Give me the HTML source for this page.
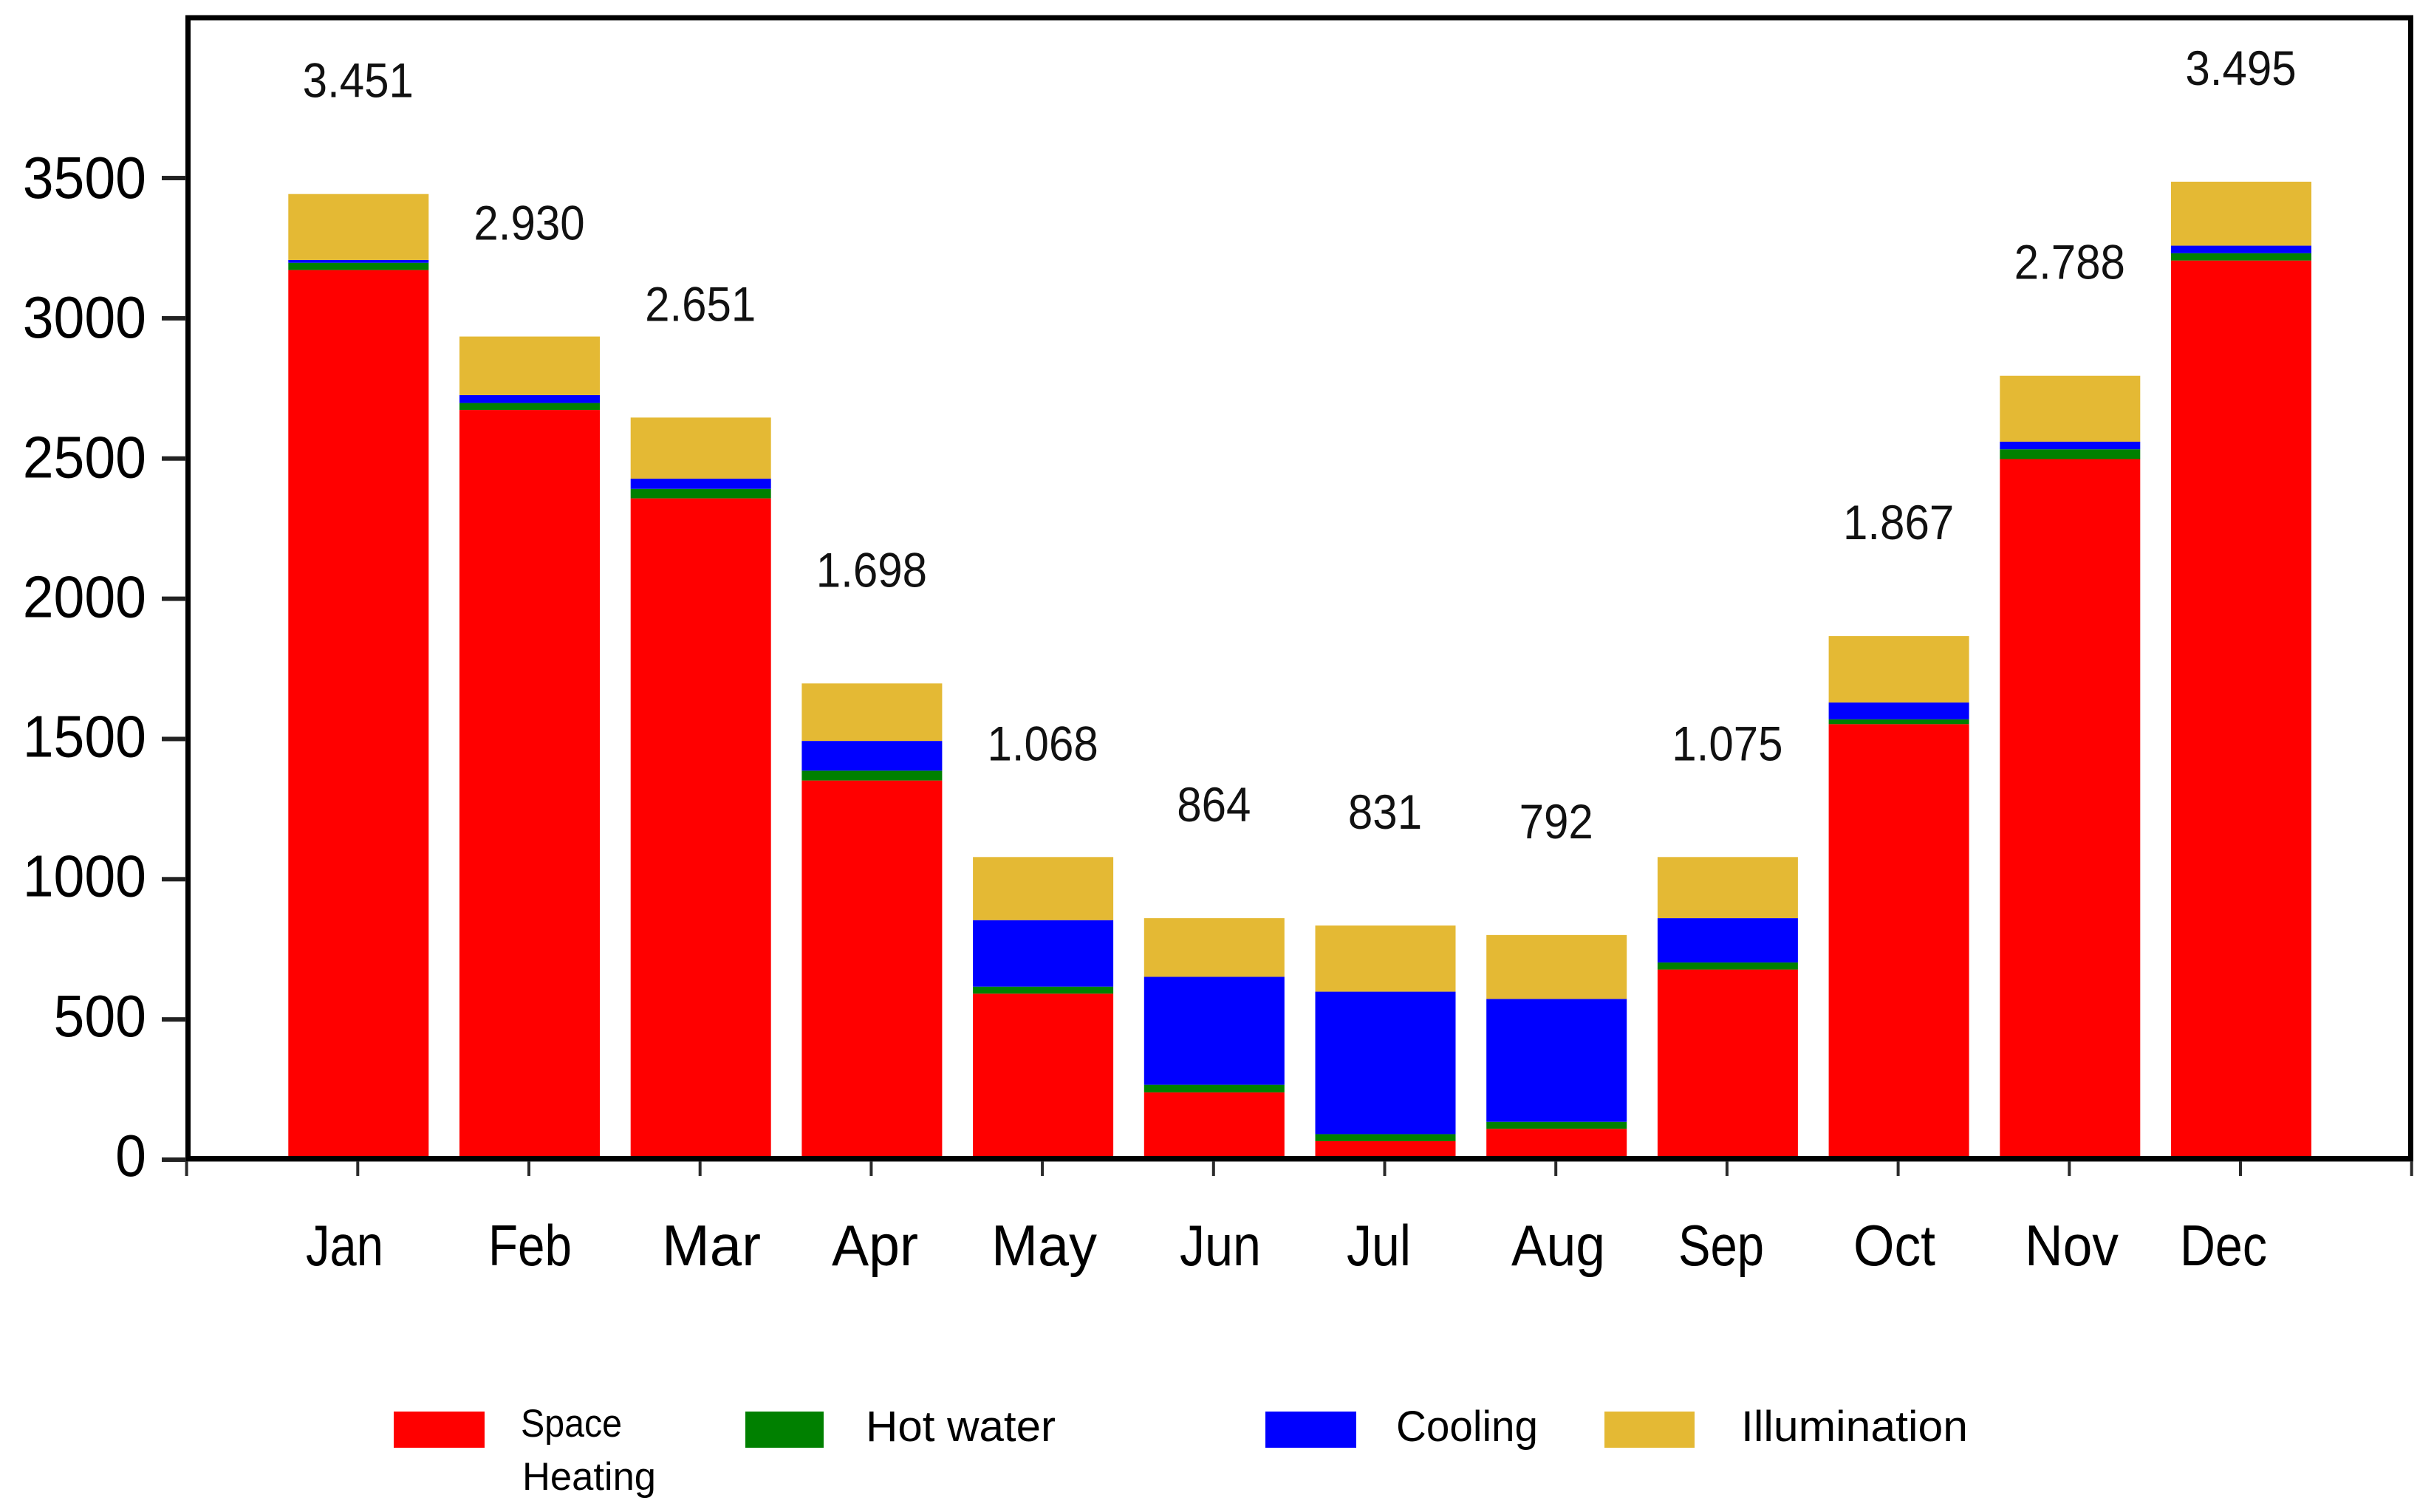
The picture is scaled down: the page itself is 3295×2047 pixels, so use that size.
<!DOCTYPE html>
<html lang="en">
<head>
<meta charset="utf-8">
<title>Monthly energy demand stacked bar chart</title>
<style>
html,body{margin:0;padding:0;background:#fff;}
svg{display:block;}
text{font-family:"Liberation Sans",sans-serif;fill:#000;}
</style>
</head>
<body>
<svg id="chart" xmlns="http://www.w3.org/2000/svg" width="3295" height="2047" viewBox="0 0 3295 2047">
  <rect x="0" y="0" width="3295" height="2047" fill="#ffffff"/>
  <g id="bars"></g>
  <g id="value-labels"></g>
  <rect x="254.5" y="24" width="3009" height="1545" fill="none" stroke="#000" stroke-width="7"/>
  <rect x="251" y="1565" width="3016" height="7.5" fill="#000"/>
  <g id="y-axis"></g>
  <g id="x-ticks"></g>

  <g font-size="78">
    <text x="414" y="1713" textLength="105" lengthAdjust="spacingAndGlyphs">Jan</text>
    <text x="661" y="1713" textLength="113" lengthAdjust="spacingAndGlyphs">Feb</text>
    <text x="896" y="1713" textLength="134" lengthAdjust="spacingAndGlyphs">Mar</text>
    <text x="1126" y="1713" textLength="117" lengthAdjust="spacingAndGlyphs">Apr</text>
    <text x="1342" y="1713" textLength="143" lengthAdjust="spacingAndGlyphs">May</text>
    <text x="1597" y="1713" textLength="110" lengthAdjust="spacingAndGlyphs">Jun</text>
    <text x="1823" y="1713" textLength="87" lengthAdjust="spacingAndGlyphs">Jul</text>
    <text x="2046" y="1713" textLength="127" lengthAdjust="spacingAndGlyphs">Aug</text>
    <text x="2272" y="1713" textLength="116" lengthAdjust="spacingAndGlyphs">Sep</text>
    <text x="2509" y="1713" textLength="111" lengthAdjust="spacingAndGlyphs">Oct</text>
    <text x="2741" y="1713" textLength="127" lengthAdjust="spacingAndGlyphs">Nov</text>
    <text x="2951" y="1713" textLength="118" lengthAdjust="spacingAndGlyphs">Dec</text>
  </g>

  <g>
    <g>
      <rect x="533" y="1911" width="123" height="49" fill="#ff0000"/>
      <text x="705" y="1945" font-size="53" textLength="137" lengthAdjust="spacingAndGlyphs">Space</text>
      <text x="707" y="2017" font-size="53" textLength="181" lengthAdjust="spacingAndGlyphs">Heating</text>
    </g>
    <g>
      <rect x="1009" y="1911" width="106" height="49" fill="#008000"/>
      <text x="1172" y="1951" font-size="58" textLength="257" lengthAdjust="spacingAndGlyphs">Hot water</text>
    </g>
    <g>
      <rect x="1713" y="1911" width="123" height="49" fill="#0000ff"/>
      <text x="1890" y="1951" font-size="58" textLength="192" lengthAdjust="spacingAndGlyphs">Cooling</text>
    </g>
    <g>
      <rect x="2172" y="1911" width="122" height="49" fill="#e4b934"/>
      <text x="2357" y="1951" font-size="58" textLength="307" lengthAdjust="spacingAndGlyphs">Illumination</text>
    </g>
  </g>
</svg>
<script>
const categories = ["Jan","Feb","Mar","Apr","May","Jun","Jul","Aug","Sep","Oct","Nov","Dec"];
const spaceHeating = [3172,2673,2358,1352,592,240,66,110,678,1553,2498,3206];
const hotWater = [26,25,34,35,25,27,25,25,25,17,35,26];
const cooling = [10,28,36,106,237,385,508,438,158,60,27,27];
const illumination = [235,209,218,205,225,209,236,228,218,237,235,228];
const totalLabels = ["3.451","2.930","2.651","1.698","1.068","864","831","792","1.075","1.867","2.788","3.495"];
const yTicks = [0,500,1000,1500,2000,2500,3000,3500];

const NS = "http://www.w3.org/2000/svg";
const seriesList = [
  {key: "space-heating", values: spaceHeating, color: "#ff0000"},
  {key: "hot-water", values: hotWater, color: "#008000"},
  {key: "cooling", values: cooling, color: "#0000ff"},
  {key: "illumination", values: illumination, color: "#e4b934"}
];

function yScale(v) { return 1570 - v * 0.3797; }
function yLabelBaseline(v) { return 1592 - v * 0.3783; }
function xScale(i) { return 252.6 + 231.7 * (i + 1); }

const BAR_WIDTH = 190;
const barsGroup = document.getElementById("bars");
const valuesGroup = document.getElementById("value-labels");
const yAxisGroup = document.getElementById("y-axis");
const xTicksGroup = document.getElementById("x-ticks");

categories.forEach(function (month, i) {
  let cumulative = 0;
  seriesList.forEach(function (s) {
    const start = cumulative;
    cumulative += s.values[i];
    const rect = document.createElementNS(NS, "rect");
    rect.setAttribute("x", xScale(i) + 1 - BAR_WIDTH / 2);
    rect.setAttribute("y", yScale(cumulative));
    rect.setAttribute("width", BAR_WIDTH);
    rect.setAttribute("height", yScale(start) - yScale(cumulative));
    rect.setAttribute("fill", s.color);
    
    
    barsGroup.appendChild(rect);
  });

  const label = document.createElementNS(NS, "text");
  label.setAttribute("transform", "translate(" + (xScale(i) + 0.5) + "," + (yScale(cumulative) - 131) + ") scale(0.91,1)");
  label.setAttribute("text-anchor", "middle");
  label.setAttribute("font-size", "66");
  label.setAttribute("style", "fill:#111");
  
  
  label.textContent = totalLabels[i];
  valuesGroup.appendChild(label);
});

for (let k = 0; k <= categories.length + 1; k++) {
  const tick = document.createElementNS(NS, "rect");
  tick.setAttribute("x", 252.6 + 231.7 * k - 2);
  tick.setAttribute("y", 1572);
  tick.setAttribute("width", 4);
  tick.setAttribute("height", 20);
  tick.setAttribute("fill", "#2a2a2a");
  
  
  xTicksGroup.appendChild(tick);
}

yTicks.forEach(function (v) {
  const tick = document.createElementNS(NS, "rect");
  tick.setAttribute("x", 219);
  tick.setAttribute("y", yScale(v) - 3);
  tick.setAttribute("width", 33);
  tick.setAttribute("height", 6);
  tick.setAttribute("fill", "#222222");
  
  
  yAxisGroup.appendChild(tick);

  const text = document.createElementNS(NS, "text");
  text.setAttribute("transform", "translate(198," + yLabelBaseline(v) + ") scale(0.94,1)");
  text.setAttribute("text-anchor", "end");
  text.setAttribute("font-size", "80");
  
  
  text.textContent = String(v);
  yAxisGroup.appendChild(text);
});
</script>
</body>
</html>
